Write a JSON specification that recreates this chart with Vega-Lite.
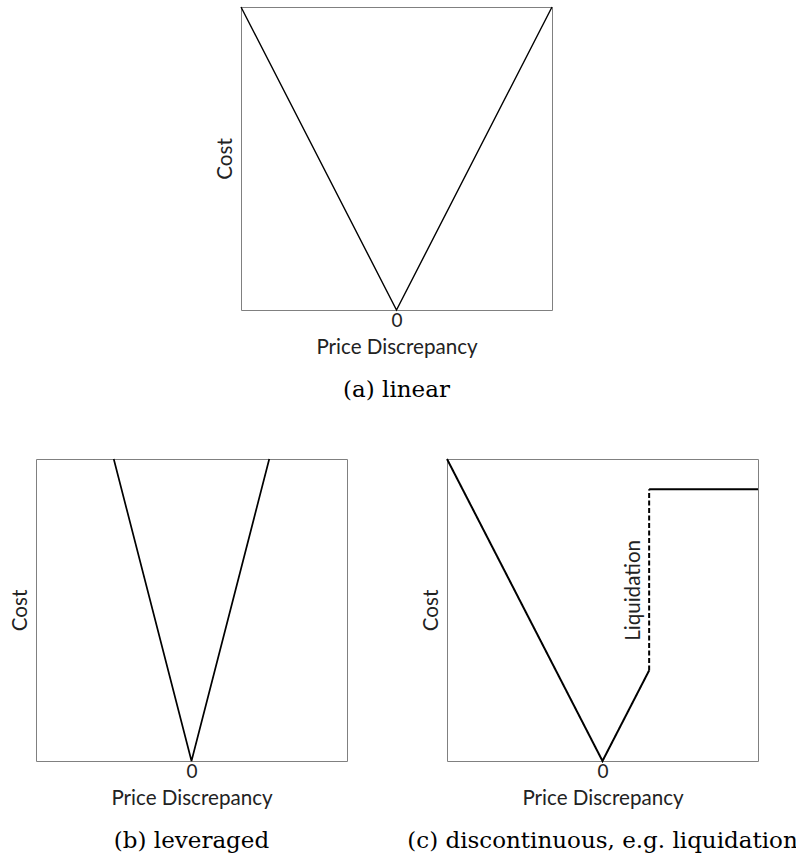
{
  "$schema": "https://vega.github.io/schema/vega-lite/v6.json",
  "background": "white",
  "padding": {"left": 9, "top": 3, "right": 0, "bottom": 0},
  "spacing": 51,
  "datasets": {
    "a": [{"x": -1, "y": 1}, {"x": 0, "y": 0}, {"x": 1, "y": 1}],
    "b": [{"x": -0.5, "y": 1}, {"x": 0, "y": 0}, {"x": 0.5, "y": 1}],
    "c": [
      {"seg": "left", "style": "solid", "ord": 1, "x": -1, "y": 1},
      {"seg": "left", "style": "solid", "ord": 2, "x": 0, "y": 0},
      {"seg": "left", "style": "solid", "ord": 3, "x": 0.3, "y": 0.3},
      {"seg": "jump", "style": "dashed", "ord": 1, "x": 0.3, "y": 0.3},
      {"seg": "jump", "style": "dashed", "ord": 2, "x": 0.3, "y": 0.9},
      {"seg": "flat", "style": "solid", "ord": 1, "x": 0.3, "y": 0.9},
      {"seg": "flat", "style": "solid", "ord": 2, "x": 1, "y": 0.9}
    ],
    "cnote": [{"x": 0.3, "y": 0.565, "text": "Liquidation"}]
  },
  "config": {
    "view": {"stroke": "#808080", "strokeWidth": 1},
    "axis": {
      "domain": false,
      "ticks": false,
      "grid": false,
      "labelFont": "Lato",
      "labelFontSize": 19,
      "labelColor": "#222222",
      "titleFont": "Lato",
      "titleFontSize": 20.6,
      "titleFontWeight": "normal",
      "titleColor": "#222222"
    },
    "axisX": {"labelPadding": 1, "titlePadding": 7, "format": "d"},
    "axisY": {"labels": false, "titlePadding": 6},
    "title": {
      "font": "DejaVu Serif",
      "fontSize": 23,
      "fontWeight": "normal",
      "color": "#000000",
      "orient": "bottom",
      "anchor": "middle",
      "offset": 21
    }
  },
  "vconcat": [
    {
      "hconcat": [
        {
          "width": 205,
          "height": 10,
          "view": {"stroke": null},
          "data": {"values": []},
          "mark": "point"
        },
        {
          "width": 311,
          "height": 303,
          "title": {"text": "(a) linear"},
          "data": {"name": "a"},
          "mark": {"type": "line", "color": "black", "strokeWidth": 1.4},
          "encoding": {
            "x": {"field": "x", "type": "quantitative", "scale": {"domain": [-1, 1], "nice": false, "zero": false}, "axis": {"values": [0], "title": "Price Discrepancy"}},
            "y": {"field": "y", "type": "quantitative", "scale": {"domain": [0, 1], "nice": false}, "axis": {"title": "Cost"}}
          }
        }
      ],
      "spacing": 0,
      "bounds": "flush"
    },
    {
      "hconcat": [
        {
          "width": 311,
          "height": 302,
          "title": {"text": "(b) leveraged"},
          "data": {"name": "b"},
          "mark": {"type": "line", "color": "black", "strokeWidth": 1.7},
          "encoding": {
            "x": {"field": "x", "type": "quantitative", "scale": {"domain": [-1, 1], "nice": false, "zero": false}, "axis": {"values": [0], "title": "Price Discrepancy"}},
            "y": {"field": "y", "type": "quantitative", "scale": {"domain": [0, 1], "nice": false}, "axis": {"title": "Cost"}}
          }
        },
        {
          "width": 311,
          "height": 302,
          "title": {"text": "(c) discontinuous, e.g. liquidation"},
          "encoding": {
            "x": {"field": "x", "type": "quantitative", "scale": {"domain": [-1, 1], "nice": false, "zero": false}, "axis": {"values": [0], "title": "Price Discrepancy"}},
            "y": {"field": "y", "type": "quantitative", "scale": {"domain": [0, 1], "nice": false}, "axis": {"title": "Cost"}}
          },
          "layer": [
            {
              "data": {"name": "c"},
              "mark": {"type": "line", "color": "black", "strokeWidth": 2},
              "encoding": {
                "detail": {"field": "seg"},
                "order": {"field": "ord"},
                "strokeDash": {"field": "style", "type": "nominal", "scale": {"domain": ["solid", "dashed"], "range": [[1, 0], [5, 2.5]]}, "legend": null}
              }
            },
            {
              "data": {"name": "cnote"},
              "mark": {"type": "text", "angle": 270, "align": "center", "baseline": "bottom", "dy": -5, "font": "Lato", "fontSize": 20.6, "color": "#222222"},
              "encoding": {
                "text": {"field": "text"}
              }
            }
          ]
        }
      ],
      "spacing": 100,
      "bounds": "flush"
    }
  ]
}
